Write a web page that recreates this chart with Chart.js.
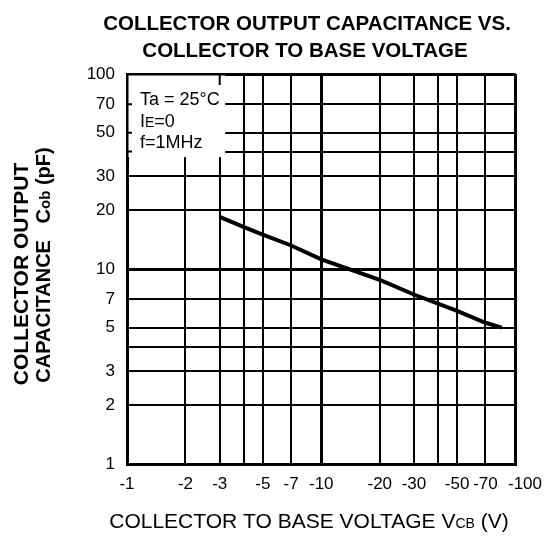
<!DOCTYPE html>
<html>
<head>
<meta charset="utf-8">
<script src="https://cdn.jsdelivr.net/npm/chart.js@4.4.1/dist/chart.umd.min.js"></script>
<style>
  html, body { margin: 0; padding: 0; background: #fff; }
  canvas { display: block; background: #fff; }
</style>
</head>
<body>
<canvas id="myChart" width="552" height="547"></canvas>
<script>
// collector to base voltage, magnitude (V) -- plotted as -V on the axis
var vcb = [3, 4, 5, 7, 10, 20, 30, 50, 70, 85];
// collector output capacitance Cob (pF)
var cob = [18.5, 16.4, 15.0, 13.2, 11.2, 8.8, 7.4, 6.1, 5.3, 5.0];

var xTicks = [1, 2, 3, 4, 5, 7, 10, 20, 30, 40, 50, 70, 100];
var xLabels = [1, 2, 3, 5, 7, 10, 20, 30, 50, 70, 100];
var yTicks = [1, 2, 3, 4, 5, 7, 10, 20, 30, 40, 50, 70, 100];
var yLabels = [1, 2, 3, 5, 7, 10, 20, 30, 50, 70, 100];

var FONT = "'Liberation Sans', Arial, sans-serif";

function gridWidth(ctx) {
  var v = ctx.tick ? ctx.tick.value : 0;
  return (v === 1 || v === 10 || v === 100) ? 3 : 2;
}

// draw a row of text pieces with different fonts, centred on x
function drawRuns(c, runs, x, y) {
  var total = 0;
  runs.forEach(function (r) { c.font = r.font; total += c.measureText(r.t).width; });
  var cx = x - total / 2;
  c.textAlign = 'left';
  c.textBaseline = 'alphabetic';
  runs.forEach(function (r) {
    c.font = r.font;
    c.fillText(r.t, cx, y + (r.dy || 0));
    cx += c.measureText(r.t).width;
  });
}

var overlay = {
  id: 'overlay',
  beforeDatasetsDraw: function (chart) {
    var c = chart.ctx, a = chart.chartArea;
    var xs = chart.scales.x, ys = chart.scales.y;
    var right = xs.getPixelForValue(3.2);
    var bottom = ys.getPixelForValue(37.5);
    c.save();
    c.fillStyle = '#fff';
    c.fillRect(a.left + 1.5, a.top + 1.5, right - a.left - 1.5, bottom - a.top - 1.5);
    // small stubs left on the box edges
    c.strokeStyle = '#000';
    c.lineWidth = 2;
    c.beginPath();
    var x3 = xs.getPixelForValue(3);
    c.moveTo(x3, a.top); c.lineTo(x3, a.top + 11);
    [70, 50, 40].forEach(function (v) {
      var py = ys.getPixelForValue(v);
      c.moveTo(a.left, py); c.lineTo(a.left + 5, py);
    });
    c.stroke();
    // conditions text
    c.fillStyle = '#000';
    c.textAlign = 'left';
    c.textBaseline = 'alphabetic';
    c.font = '18px ' + FONT;
    c.fillText('Ta = 25°C', a.left + 13, a.top + 31);
    c.fillText('I', a.left + 13, a.top + 53);
    var w = c.measureText('I').width;
    c.font = '14px ' + FONT;
    c.fillText('E', a.left + 13 + w, a.top + 53);
    var w2 = c.measureText('E').width;
    c.font = '18px ' + FONT;
    c.fillText('=0', a.left + 13 + w + w2, a.top + 53);
    c.fillText('f=1MHz', a.left + 13, a.top + 74);
    c.restore();
  },
  afterDraw: function (chart) {
    var c = chart.ctx;
    c.save();
    c.fillStyle = '#000';
    var big = 'bold 20.5px ' + FONT;
    drawRuns(c, [{ t: 'COLLECTOR OUTPUT CAPACITANCE VS.', font: big }], 307, 30);
    drawRuns(c, [{ t: 'COLLECTOR TO BASE VOLTAGE', font: big }], 305, 57);

    drawRuns(c, [
      { t: 'COLLECTOR TO BASE VOLTAGE V', font: '21px ' + FONT },
      { t: 'CB', font: '14px ' + FONT },
      { t: ' (V)', font: '21px ' + FONT }
    ], 309, 528);

    c.save();
    c.translate(28, 274);
    c.rotate(-Math.PI / 2);
    drawRuns(c, [{ t: 'COLLECTOR OUTPUT', font: 'bold 21px ' + FONT }], 0, 0);
    c.restore();
    c.save();
    c.translate(50, 265);
    c.rotate(-Math.PI / 2);
    drawRuns(c, [
      { t: 'CAPACITANCE   C', font: 'bold 20px ' + FONT },
      { t: 'ob', font: 'bold 15px ' + FONT },
      { t: ' (pF)', font: 'bold 20px ' + FONT }
    ], 0, 0);
    c.restore();
    c.restore();
  }
};

var points = vcb.map(function (v, i) { return { x: v, y: cob[i] }; });

var ctx = document.getElementById('myChart').getContext('2d');
var chart = new Chart(ctx, {
  type: 'scatter',
  data: {
    datasets: [{
      label: 'Cob',
      data: points,
      showLine: true,
      borderColor: '#000',
      borderWidth: 4,
      pointRadius: 0,
      tension: 0
    }]
  },
  options: {
    responsive: false,
    animation: false,
    devicePixelRatio: 1,
    layout: { padding: { left: 0, right: 36, top: 74, bottom: 0 } },
    plugins: { legend: { display: false }, tooltip: { enabled: false } },
    scales: {
      x: {
        type: 'logarithmic',
        min: 1,
        max: 100,
        afterBuildTicks: function (s) { s.ticks = xTicks.map(function (v) { return { value: v }; }); },
        afterFit: function (s) { s.height = 83; },
        grid: { color: '#000', lineWidth: gridWidth, drawTicks: false },
        border: { color: '#000', width: 3 },
        ticks: {
          autoSkip: false,
          maxRotation: 0,
          padding: 10,
          color: '#000',
          font: { family: FONT, size: 17 },
          callback: function (v) {
            if (xLabels.indexOf(v) < 0) return '';
            // last label sits a little to the right, as in the original
            return v === 100 ? '    -100' : '-' + v;
          }
        }
      },
      y: {
        type: 'logarithmic',
        min: 1,
        max: 100,
        afterBuildTicks: function (s) { s.ticks = yTicks.map(function (v) { return { value: v }; }); },
        afterFit: function (s) { s.width = 127; },
        grid: { color: '#000', lineWidth: gridWidth, drawTicks: false },
        border: { color: '#000', width: 3 },
        ticks: {
          autoSkip: false,
          padding: 12,
          color: '#000',
          font: { family: FONT, size: 17 },
          callback: function (v) { return yLabels.indexOf(v) >= 0 ? String(v) : ''; }
        }
      }
    }
  },
  plugins: [overlay]
});
</script>
</body>
</html>
